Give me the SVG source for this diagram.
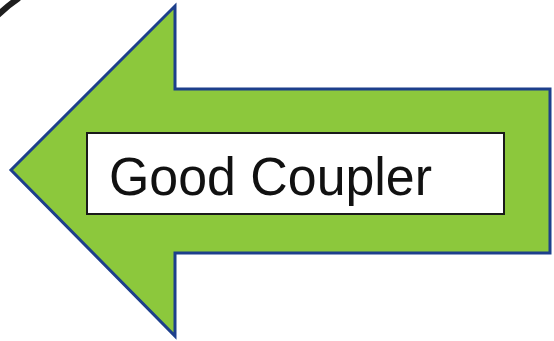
<svg xmlns="http://www.w3.org/2000/svg" width="554" height="341" viewBox="0 0 554 341">
<style>
.arrow{fill:#8cc83c;stroke:#1d3f8c;stroke-width:3;stroke-linejoin:miter}
.box{fill:#ffffff;stroke:#1a1a1a;stroke-width:2}
.label{font-family:"Liberation Sans",Arial,sans-serif;font-size:54px;fill:#111111}
</style>
<rect width="554" height="341" fill="#ffffff"/>
<g id="curve">
<path d="M -3 16 Q 7 6 19 -2" fill="none" stroke="#1e1e1e" stroke-width="6"/>
</g>
<g id="arrow">
<polygon class="arrow" points="175,6 175,89 550,89 550,253 175,253 175,336 11,170"/>
</g>
<g id="label-node">
<rect class="box" x="87" y="133" width="417" height="81"/>
<text class="label" x="109" y="195" textLength="323" lengthAdjust="spacingAndGlyphs">Good Coupler</text>
</g>
</svg>
